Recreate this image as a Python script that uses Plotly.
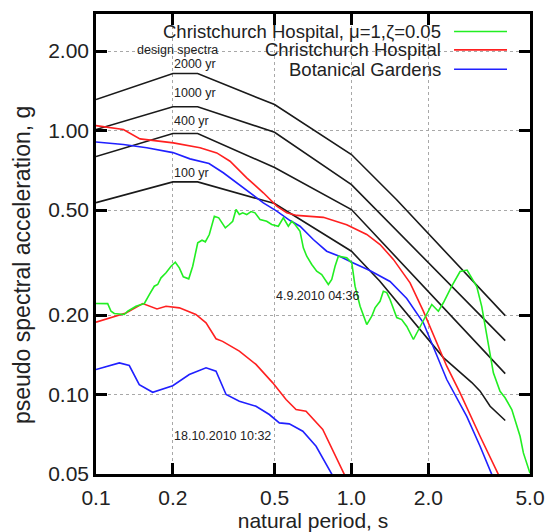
import math
import plotly.graph_objects as go

# ---------------- data ----------------
# Design spectra (return periods)
ds_2000_T = [0.1, 0.2, 0.25, 0.5, 1.0, 1.5, 4.0]
ds_2000_S = [1.31, 1.644, 1.644, 1.254, 0.811, 0.548, 0.199]
ds_1000_T = [0.1, 0.2, 0.25, 0.5, 1.0, 4.0]
ds_1000_S = [1.009, 1.23, 1.23, 0.985, 0.624, 0.160]
ds_400_T = [0.1, 0.2, 0.25, 0.5, 1.0, 4.0]
ds_400_S = [0.797, 0.974, 0.974, 0.724, 0.502, 0.120]
ds_100_T = [0.1, 0.2, 0.25, 0.5, 1.0, 1.29, 2.29, 2.96, 3.19, 3.49, 4.0]
ds_100_S = [0.533, 0.639, 0.639, 0.529, 0.349, 0.269, 0.138, 0.111, 0.103, 0.0903, 0.0797]

# Christchurch Hospital, mu=1, zeta=0.05 (4.9.2010 04:36)
chh_mu_T = [0.100, 0.1111, 0.1145, 0.1179, 0.1291, 0.1331, 0.1434, 0.1546, 0.1617, 0.1691,
            0.1744, 0.1797, 0.1880, 0.1967, 0.2044, 0.2119, 0.2197, 0.2307, 0.2391, 0.2502,
            0.2600, 0.2679, 0.2777, 0.2906, 0.3023, 0.3208, 0.3326, 0.3429, 0.3533, 0.3640,
            0.3753, 0.3890, 0.4044, 0.4193, 0.4386, 0.4659, 0.4874, 0.5173, 0.5412, 0.5661,
            0.5838, 0.6014, 0.6291, 0.6482, 0.6683, 0.6991, 0.7312, 0.7649, 0.8121, 0.8374,
            0.8627, 0.8888, 0.9585, 1.003, 1.033, 1.081, 1.148, 1.201, 1.237, 1.294,
            1.333, 1.375, 1.416, 1.504, 1.573, 1.647, 1.748, 1.856, 1.942, 2.063,
            2.189, 2.290, 2.470, 2.662, 2.836, 2.958, 3.094, 3.237, 3.335, 3.489,
            3.594, 3.817, 3.994, 4.243, 4.438, 4.572, 4.711, 4.928, 5.0]
chh_mu_S = [0.2212, 0.221, 0.2068, 0.2027, 0.2009, 0.2068, 0.2160, 0.2212, 0.2392, 0.2572,
            0.2611, 0.2767, 0.2891, 0.3062, 0.3170, 0.3019, 0.2791, 0.2743, 0.3062, 0.3755,
            0.3841, 0.3788, 0.4036, 0.4736, 0.4670, 0.4280, 0.4406, 0.4534, 0.5021, 0.4806,
            0.4879, 0.4806, 0.4934, 0.4879, 0.4602, 0.4534, 0.4406, 0.4341, 0.4670, 0.4341,
            0.4534, 0.4406, 0.4155, 0.3594, 0.3341, 0.3108, 0.2931, 0.2848, 0.2611, 0.2727,
            0.3062, 0.3341, 0.3295, 0.3154, 0.2572, 0.2160, 0.1841, 0.1980, 0.2130, 0.2256,
            0.2462, 0.2434, 0.2290, 0.1957, 0.1923, 0.1810, 0.1616, 0.1810, 0.1980, 0.2193,
            0.2068, 0.2226, 0.2572, 0.2923, 0.2962, 0.2767, 0.2566, 0.2154, 0.1810, 0.1442,
            0.1209, 0.1029, 0.0972, 0.0877, 0.0759, 0.0695, 0.0601, 0.0520, 0.0503]

# Christchurch Hospital (4.9.2010)
chh_sep_T = [0.1, 0.128, 0.1487, 0.2008, 0.2554, 0.297, 0.3347, 0.389, 0.452, 0.510, 0.558,
             0.611, 0.668, 0.776, 0.958, 1.148, 1.294, 1.459, 1.696, 1.912, 2.361, 2.662,
             3.188, 3.76]
chh_sep_S = [1.044, 1.009, 0.930, 0.898, 0.860, 0.823, 0.765, 0.662, 0.581, 0.517, 0.488,
             0.477, 0.474, 0.469, 0.440, 0.404, 0.370, 0.325, 0.265, 0.207, 0.128, 0.1015,
             0.0695, 0.0498]

# Botanical Gardens (4.9.2010)
bot_sep_T = [0.1, 0.128, 0.158, 0.2, 0.2333, 0.277, 0.315, 0.3556, 0.401, 0.452, 0.510,
             0.575, 0.629, 0.709, 0.800, 0.902, 1.017, 1.18, 1.416, 1.646, 1.912, 2.158,
             2.361, 2.827, 3.188, 3.543]
bot_sep_S = [0.905, 0.885, 0.860, 0.825, 0.781, 0.750, 0.692, 0.634, 0.581, 0.532, 0.495,
             0.456, 0.434, 0.3865, 0.349, 0.333, 0.315, 0.295, 0.268, 0.231, 0.187, 0.1397,
             0.114, 0.0827, 0.0637, 0.0498]

# Christchurch Hospital (18.10.2010 10:32)
chh_oct_T = [0.1, 0.131, 0.1524, 0.1733, 0.188, 0.212, 0.246, 0.2696, 0.295, 0.313, 0.364,
             0.423, 0.492, 0.5546, 0.607, 0.664, 0.772, 0.870, 0.938]
chh_oct_S = [0.188, 0.2035, 0.2212, 0.211, 0.216, 0.213, 0.201, 0.187, 0.1626, 0.159, 0.146,
             0.130, 0.1107, 0.0958, 0.0877, 0.0864, 0.0737, 0.0584, 0.0498]

# Botanical Gardens (18.10.2010 10:32)
bot_oct_T = [0.1, 0.1234, 0.135, 0.1477, 0.1667, 0.1997, 0.2318, 0.2696, 0.295, 0.323, 0.364,
             0.423, 0.477, 0.522, 0.571, 0.645, 0.727, 0.819, 0.839]
bot_oct_S = [0.1244, 0.1318, 0.1288, 0.109, 0.102, 0.108, 0.119, 0.1262, 0.1226, 0.100, 0.0943,
             0.0903, 0.084, 0.0781, 0.0774, 0.0726, 0.0637, 0.052, 0.0498]

x_ticks = [0.1, 0.2, 0.5, 1.0, 2.0, 5.0]
x_tick_text = ["0.1", "0.2", "0.5", "1.0", "2.0", "5.0"]
y_ticks = [0.05, 0.1, 0.2, 0.5, 1.0, 2.0]
y_tick_text = ["0.05", "0.10", "0.20", "0.50", "1.00", "2.00"]

legend_names = ["Christchurch Hospital, \u03bc=1,\u03b6=0.05", "Christchurch Hospital", "Botanical Gardens"]

# ---------------- style ----------------
FONT = "Liberation Sans, Arial, Helvetica, sans-serif"
GREEN = "#22ee22"
RED = "#ff2020"
BLUE = "#2020ff"
BLACK = "#1a1a1a"
LW = 1.6

fig = go.Figure()

for T, S in [(ds_2000_T, ds_2000_S), (ds_1000_T, ds_1000_S), (ds_400_T, ds_400_S), (ds_100_T, ds_100_S)]:
    fig.add_trace(go.Scatter(x=T, y=S, mode="lines", line=dict(color=BLACK, width=LW), showlegend=False))

fig.add_trace(go.Scatter(x=chh_oct_T, y=chh_oct_S, mode="lines", line=dict(color=RED, width=LW), showlegend=False))
fig.add_trace(go.Scatter(x=bot_oct_T, y=bot_oct_S, mode="lines", line=dict(color=BLUE, width=LW), showlegend=False))
fig.add_trace(go.Scatter(x=bot_sep_T, y=bot_sep_S, mode="lines", line=dict(color=BLUE, width=LW), showlegend=False))
fig.add_trace(go.Scatter(x=chh_sep_T, y=chh_sep_S, mode="lines", line=dict(color=RED, width=LW), showlegend=False))
fig.add_trace(go.Scatter(x=chh_mu_T, y=chh_mu_S, mode="lines", line=dict(color=GREEN, width=LW), showlegend=False))

L = math.log10
annotations = []
# text labels inside plot (data coords; log axes use log10 values)
def lab(text, T, S, anchor="left"):
    annotations.append(dict(x=L(T), y=L(S), xref="x", yref="y", text=text, showarrow=False,
                            xanchor=anchor, yanchor="middle", borderpad=0,
                            font=dict(family=FONT, size=12.5, color="#222")))

lab("design spectra", 0.2085, 2.01, "center")
lab("2000 yr", 0.2, 1.78)
lab("1000 yr", 0.2, 1.389)
lab("400 yr", 0.2, 1.091)
lab("100 yr", 0.2, 0.692)
lab("4.9.2010 04:36", 0.5, 0.237)
lab("18.10.2010 10:32", 0.2, 0.0695)

# y-axis title (placed as rotated text, as in the original)
annotations.append(dict(x=-0.172, y=0.455, xref="paper", yref="paper",
                        text="pseudo spectral acceleration, g", textangle=-90, showarrow=False,
                        xanchor="center", yanchor="middle",
                        font=dict(family=FONT, size=23, color="#222")))

# custom legend: right-aligned text with line sample on the right
legend_colors = [GREEN, RED, BLUE]
legend_y = [0.962, 0.922, 0.880]
shapes = []
for name, col, yy in zip(legend_names, legend_colors, legend_y):
    annotations.append(dict(x=0.797, y=yy, xref="paper", yref="paper", text=name, showarrow=False,
                            xanchor="right", yanchor="middle", borderpad=0,
                            font=dict(family=FONT, size=18.5, color="#222")))
    shapes.append(dict(type="line", xref="paper", yref="paper", x0=0.825, x1=0.947, y0=yy, y1=yy,
                       line=dict(color=col, width=LW)))

axis_common = dict(
    type="log", showline=True, linecolor="black", linewidth=2.5, mirror="ticks",
    ticks="inside", ticklen=11, tickwidth=2.5, tickcolor="black",
    showgrid=True, gridcolor="#a8a8a8", gridwidth=1, griddash="dot",
    zeroline=False, automargin=False, tickfont=dict(family=FONT, size=21, color="#222"),
)

fig.update_layout(
    width=545, height=532,
    margin=dict(l=96, r=15, t=14, b=58),
    paper_bgcolor="white", plot_bgcolor="white",
    showlegend=False,
    xaxis=dict(axis_common, range=[L(0.1), L(5.0)], tickvals=x_ticks, ticktext=x_tick_text,
               ticklabelstandoff=3,
               title=dict(text="natural period, s", font=dict(family=FONT, size=21, color="#222"), standoff=5)),
    yaxis=dict(axis_common, range=[L(0.05), 0.4414], tickvals=y_ticks, ticktext=y_tick_text),
    annotations=annotations,
    shapes=shapes,
)

fig.write_html("out.html")
